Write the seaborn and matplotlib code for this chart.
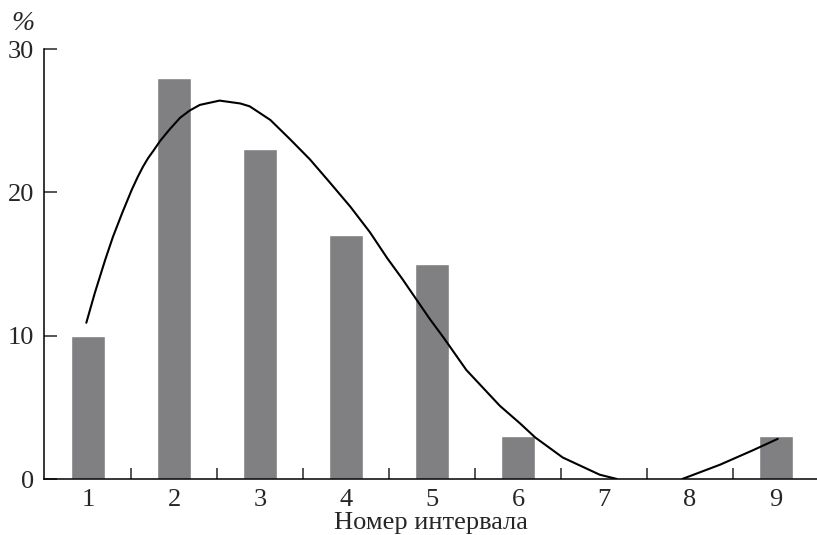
import numpy as np
import pandas as pd
import matplotlib
matplotlib.use("Agg")
import matplotlib.pyplot as plt
import seaborn as sns

# interval numbers and share of values (%)
intervals = [1, 2, 3, 4, 5, 6, 7, 8, 9]
shares = [10, 28, 23, 17, 15, 3, 0, 0, 3]

# fitted curve (two pieces, the curve is cut at zero)
curve_x1 = [0.98, 1.08, 1.20, 1.29, 1.40, 1.51, 1.58, 1.64, 1.70, 1.76, 1.84,
            1.95, 2.07, 2.18, 2.30, 2.53, 2.77, 2.88, 3.12, 3.35, 3.58, 3.81,
            4.05, 4.28, 4.48, 4.65, 4.81, 4.97, 5.13, 5.40, 5.79, 6.02, 6.20,
            6.52, 6.95, 7.15]
curve_y1 = [10.9, 13.0, 15.3, 16.9, 18.6, 20.2, 21.1, 21.8, 22.4, 22.9, 23.6,
            24.4, 25.2, 25.7, 26.1, 26.4, 26.2, 26.0, 25.05, 23.7, 22.3, 20.7,
            19.0, 17.2, 15.4, 14.0, 12.6, 11.2, 9.9, 7.6, 5.1, 3.9, 2.9,
            1.5, 0.3, 0.0]
curve_x2 = [7.91, 8.35, 8.73, 9.02]
curve_y2 = [0.0, 1.0, 2.0, 2.8]

x_label = "Номер интервала"
y_label = "%"

sns.set_theme(style="ticks")
plt.rcParams["font.family"] = ["Liberation Serif", "DejaVu Serif"]

df = pd.DataFrame({"interval": intervals, "share": shares})

fig = plt.figure(figsize=(8.17, 5.35), dpi=100)
ax = fig.add_axes([44 / 817, 56 / 535, 773 / 817, 430 / 535])

sns.barplot(data=df, x="interval", y="share", native_scale=True,
            color="#808083", saturation=1, width=0.4, ax=ax)
sns.lineplot(x=curve_x1, y=curve_y1, color="black", linewidth=1.5,
             sort=False, ax=ax)
sns.lineplot(x=curve_x2, y=curve_y2, color="black", linewidth=1.5,
             sort=False, ax=ax)

ax.set_xlim(0.488, 9.477)
ax.set_ylim(0, 30)
ax.set_yticks([0, 10, 20, 30])
ax.set_xticks(intervals)
ax.set_xticks(np.arange(1.5, 9, 1), minor=True)

ax.tick_params(axis="x", which="major", length=0, pad=7, labelsize=19)
ax.tick_params(axis="x", which="minor", direction="in", length=8, width=1.1)
ax.tick_params(axis="y", direction="in", length=9, width=1.1, pad=7,
               labelsize=19)

for side in ["top", "right"]:
    ax.spines[side].set_visible(False)
for side in ["left", "bottom"]:
    ax.spines[side].set_linewidth(1.1)
    ax.spines[side].set_color("black")

ax.set_xlabel(x_label, fontsize=19, labelpad=1)
ax.set_ylabel("")
fig.text(23 / 817, 1 - 23 / 535, y_label, fontsize=20, style="italic",
         ha="center", va="center")

fig.savefig("out.png", dpi=100)
